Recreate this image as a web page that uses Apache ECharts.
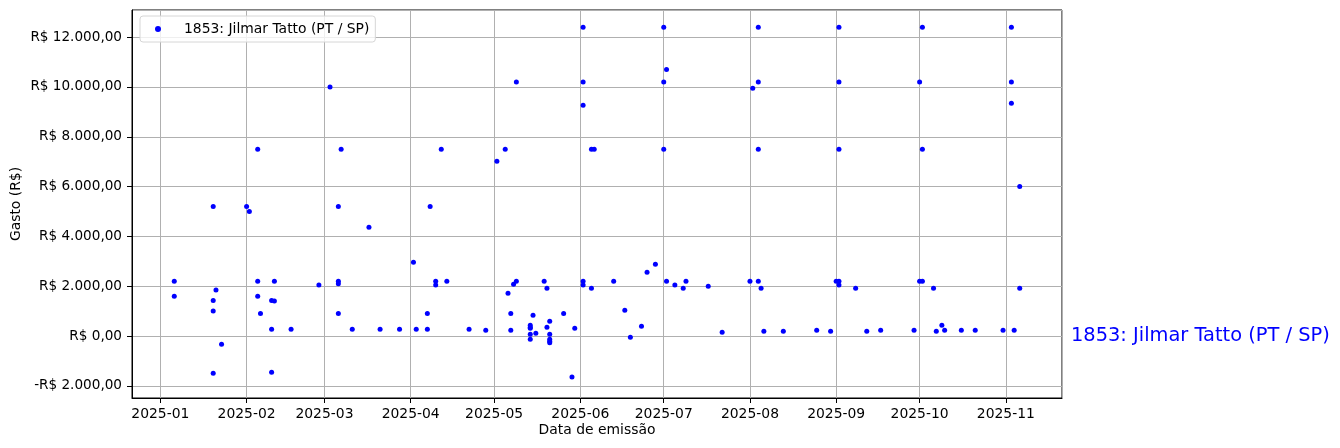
<!DOCTYPE html>
<html>
<head>
<meta charset="utf-8">
<script src="https://cdn.jsdelivr.net/npm/echarts@6/dist/echarts.min.js"></script>
<style>
html,body{margin:0;padding:0;background:#fff;}
#chart{width:1340px;height:448px;}
</style>
</head>
<body>
<div id="chart"></div>
<script>
const seriesName = '1853: Jilmar Tatto (PT / SP)';
const xAxisTitle = 'Data de emissão';
const yAxisTitle = 'Gasto (R$)';

const dates = [
 '2025-01-06','2025-01-06','2025-01-20','2025-01-21','2025-01-20','2025-01-20','2025-01-20','2025-01-23',
 '2025-02-01','2025-02-02','2025-02-05','2025-02-05','2025-02-05','2025-02-06','2025-02-10','2025-02-11','2025-02-11','2025-02-10','2025-02-10','2025-02-17','2025-02-27',
 '2025-03-03','2025-03-06','2025-03-07','2025-03-06','2025-03-06','2025-03-06','2025-03-11','2025-03-17','2025-03-21','2025-03-28',
 '2025-04-02','2025-04-03','2025-04-07','2025-04-07','2025-04-08','2025-04-10','2025-04-10','2025-04-12','2025-04-14','2025-04-22','2025-04-28',
 '2025-05-02','2025-05-05','2025-05-06','2025-05-07','2025-05-07','2025-05-08','2025-05-09','2025-05-09','2025-05-14','2025-05-14','2025-05-14','2025-05-14','2025-05-14','2025-05-15','2025-05-16','2025-05-19','2025-05-20','2025-05-20','2025-05-21','2025-05-21','2025-05-21','2025-05-21','2025-05-21','2025-05-26','2025-05-29','2025-05-30',
 '2025-06-02','2025-06-02','2025-06-02','2025-06-02','2025-06-02','2025-06-05','2025-06-05','2025-06-06','2025-06-13','2025-06-17','2025-06-19','2025-06-23','2025-06-25','2025-06-28',
 '2025-07-01','2025-07-01','2025-07-01','2025-07-02','2025-07-02','2025-07-05','2025-07-08','2025-07-09','2025-07-17','2025-07-22',
 '2025-08-01','2025-08-02','2025-08-04','2025-08-04','2025-08-04','2025-08-04','2025-08-05','2025-08-06','2025-08-13','2025-08-25','2025-08-30',
 '2025-09-01','2025-09-02','2025-09-02','2025-09-02','2025-09-02','2025-09-02','2025-09-08','2025-09-12','2025-09-17','2025-09-29',
 '2025-10-01','2025-10-01','2025-10-02','2025-10-02','2025-10-02','2025-10-06','2025-10-07','2025-10-09','2025-10-10','2025-10-16','2025-10-21','2025-10-31',
 '2025-11-03','2025-11-03','2025-11-03','2025-11-04','2025-11-06','2025-11-06'
];
const values = [
 2200,1600,5200,1850,1430,1000,-1500,-330,
 5200,5000,7500,2200,1600,900,1430,1400,2200,270,-1460,270,2050,
 10000,5200,7500,2200,2100,900,270,4370,270,270,
 2960,270,900,270,5200,2200,2050,7500,2200,270,230,
 7020,7500,1720,900,230,2080,2200,10200,430,350,310,70,-130,830,110,2200,1920,350,590,70,-130,-210,-270,900,-1650,310,
 12400,10200,9270,2200,2050,1920,7500,7500,2200,1030,-50,390,2560,2880,
 12400,10200,7500,10700,2200,2050,1920,2200,2000,150,
 2200,9950,12400,10200,7500,2200,1920,190,190,230,190,
 2200,2200,2050,12400,10200,7500,1920,190,230,230,
 2200,10200,2200,12400,7500,1920,190,430,230,230,230,230,
 12400,10200,9350,230,6000,1920
];

const DAY = 86400000;
const jan1 = new Date(2025,0,1).getTime();
const xMin = jan1 - 10.2*DAY;
const xMax = jan1 + 324.2*DAY;

function brl(v){
  const neg = v < 0;
  const s = Math.abs(v).toFixed(2).split('.');
  const int = s[0].replace(/\B(?=(\d{3})+(?!\d))/g,'.');
  return (neg?'-':'') + 'R$ ' + int + ',' + s[1];
}

const points = dates.map((d,i)=>{
  const p = d.split('-').map(Number);
  return [new Date(p[0],p[1]-1,p[2]).getTime(), values[i]];
});

const FONT = 'DejaVu Sans';
const FS = 13.9;
const chart = echarts.init(document.getElementById('chart'), null, {renderer:'canvas'});
chart.setOption({
  animation:false,
  backgroundColor:'#ffffff',
  textStyle:{fontFamily:FONT},
  grid:{left:132,right:278,top:10,bottom:50,show:true,borderColor:'#000',borderWidth:1,backgroundColor:'transparent',containLabel:false,outerBoundsMode:'none'},
  legend:{
    left:140, top:16,
    padding:[6,6,6,15],
    itemWidth:6, itemHeight:6,
    icon:'circle',
    borderColor:'#d6d6d6', borderWidth:1, borderRadius:3,
    backgroundColor:'rgba(255,255,255,0.8)',
    textStyle:{fontFamily:FONT,fontSize:FS,color:'#000',padding:[0,0,0,18]},
    data:[seriesName]
  },
  xAxis:{
    type:'time',
    min:xMin, max:xMax,
    splitNumber:11,
    minInterval:28*DAY, maxInterval:31*DAY,
    name:xAxisTitle, nameLocation:'middle', nameGap:25, nameMoveOverlap:false,
    nameTextStyle:{fontFamily:FONT,fontSize:FS,color:'#000'},
    axisLine:{show:true,onZero:false,lineStyle:{color:'#000',width:1}},
    axisTick:{show:true,length:5,lineStyle:{color:'#000'}},
    axisLabel:{
      color:'#000',fontFamily:FONT,fontSize:FS,margin:9,
      showMinLabel:false, showMaxLabel:false,
      hideOverlap:false,
      formatter:function(val){
        const d=new Date(val);
        return d.getFullYear()+'-'+String(d.getMonth()+1).padStart(2,'0');
      }
    },
    splitLine:{show:true,lineStyle:{color:'#b0b0b0',width:1}}
  },
  yAxis:{
    type:'value',
    min:-2490, max:13090,
    splitNumber:8,
    name:yAxisTitle, nameLocation:'middle', nameGap:109, nameRotate:90, nameMoveOverlap:false,
    nameTextStyle:{fontFamily:FONT,fontSize:FS,color:'#000'},
    axisLine:{show:true,onZero:false,lineStyle:{color:'#000',width:1}},
    axisTick:{show:true,length:5,lineStyle:{color:'#000'}},
    axisLabel:{color:'#000',fontFamily:FONT,fontSize:13.6,margin:10,showMinLabel:false,showMaxLabel:false,formatter:brl},
    splitLine:{show:true,lineStyle:{color:'#b0b0b0',width:1}}
  },
  series:[{
    name:seriesName,
    type:'scatter',
    symbol:'circle',
    symbolSize:5,
    itemStyle:{color:'#0000ff',opacity:1},
    data:points
  }],
  graphic:[{
    type:'text',
    left:1071, top:326,
    style:{text:seriesName, fill:'#0000ff', font:'19.4px "DejaVu Sans"'}
  }]
});
</script>
</body>
</html>
